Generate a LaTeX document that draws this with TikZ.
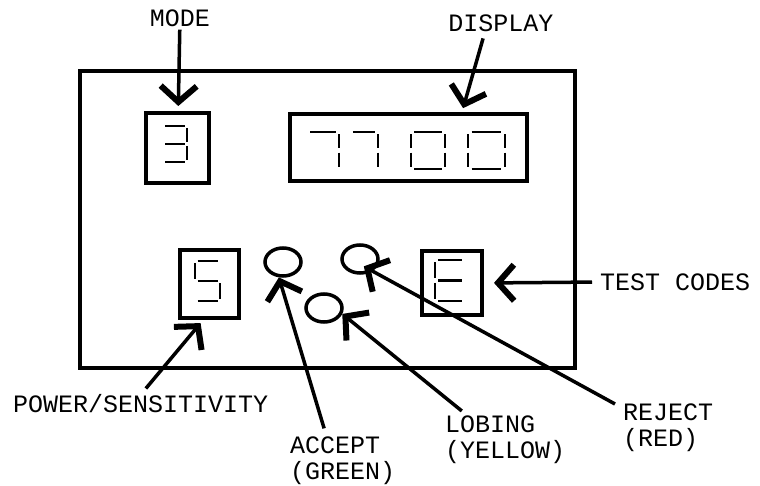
\documentclass[tikz,border=0pt]{standalone}
\usepackage{fontspec}
\setmainfont{Liberation Mono}
\usetikzlibrary{arrows.meta,shapes.geometric}

\newcommand{\segdigit}[5]{%
 \begin{scope}[shift={(#1,#2)}, x=#3pt, y=-#4pt]
  \foreach \s in {#5} {
   \if\s a\draw[seg] (0.1,0) -- (0.9,0);\fi
   \if\s b\draw[seg] (1,0.06) -- (1,0.44);\fi
   \if\s c\draw[seg] (1,0.56) -- (1,0.94);\fi
   \if\s d\draw[seg] (0.1,1) -- (0.9,1);\fi
   \if\s e\draw[seg] (0,0.56) -- (0,0.94);\fi
   \if\s f\draw[seg] (0,0.06) -- (0,0.44);\fi
   \if\s g\draw[seg] (0.1,0.5) -- (0.9,0.5);\fi
  }
 \end{scope}}

\begin{document}
\begin{tikzpicture}[x=1pt, y=-1pt,
  box/.style={draw, line width=4pt, inner sep=0pt},
  lamp/.style={draw, ellipse, line width=3.5pt, minimum width=36pt, minimum height=28pt, inner sep=0pt},
  seg/.style={line width=2.2pt},
  lbl/.style={font=\fontsize{25}{26}\selectfont, inner sep=0pt, align=left},
  arr/.style={line width=3.5pt, -{Straight Barb[length=16pt,width=36pt,line width=6pt]}}]
 \useasboundingbox (0,0) rectangle (760,486);

 \node[box, minimum width=495pt, minimum height=297pt] (panel) at (327.5,219.5) {};
 \node[box, minimum width=63pt, minimum height=70pt] (modebox) at (177.5,148) {};
 \node[box, minimum width=237pt, minimum height=67pt] (dispbox) at (408.5,147.5) {};
 \node[box, minimum width=59pt, minimum height=68pt] (pwrbox) at (209.5,284) {};
 \node[box, minimum width=60pt, minimum height=64pt] (testbox) at (452,283) {};
 \node[lamp] (acc) at (283,262) {};
 \node[lamp] (lob) at (324,308) {};
 \node[lamp] (rej) at (360,259) {};

 \segdigit{163}{126}{24}{36}{a,b,c,d,g}
 \segdigit{307}{132}{32}{37}{a,b,c}
 \segdigit{350}{132}{28}{37}{a,b,c}
 \segdigit{411}{132}{34}{37}{a,b,c,d,e,f}
 \segdigit{468}{132}{37}{37}{a,b,c,d,e,f}
 \segdigit{195}{261}{25}{40}{a,f,g,c,d}
 \segdigit{435}{260}{30}{41}{a,f,g,e,d}

 \node[lbl] (modelbl) at (180,18) {MODE};
 \node[lbl] (displbl) at (501,23) {DISPLAY};
 \node[lbl, anchor=west] (testlbl) at (600,282) {TEST CODES};
 \node[lbl, anchor=west] (pwrlbl) at (13,404) {POWER/SENSITIVITY};
 \node[lbl, anchor=north west] (acclbl) at (290,437) {ACCEPT\\(GREEN)};
 \node[lbl, anchor=north west] (loblbl) at (445,416) {LOBING\\(YELLOW)};
 \node[lbl, anchor=north west] (rejlbl) at (623,404) {REJECT\\(RED)};

 \draw[arr, shorten <=3pt, shorten >=5pt] (modelbl) -- (modebox);
 \draw[arr, shorten <=7pt, shorten >=4pt] ([xshift=-16pt]displbl.south) -- ([xshift=53.5pt]dispbox.north);
 \draw[arr, shorten <=8pt, shorten >=10pt] (testlbl.west) -- (testbox.east);
 \draw[arr, shorten <=8pt, shorten >=4pt] (pwrlbl.north) -- (pwrbox.-100);
 \draw[arr, shorten <=9pt] ([xshift=-16pt]acclbl.north) -- (acc.255);
 \draw[arr, shorten <=8pt] ([xshift=23pt]loblbl.north west) -- (lob.-18);
 \draw[arr, shorten >=-10pt] ([xshift=-8pt]rejlbl.north west) -- (rej.-44);
\end{tikzpicture}
\end{document}
